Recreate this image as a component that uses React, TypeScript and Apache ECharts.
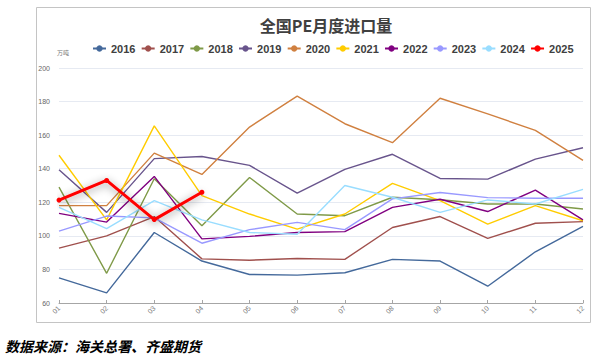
import React, { useEffect, useRef } from "react";
import * as echarts from "echarts";

const months = ["01", "02", "03", "04", "05", "06", "07", "08", "09", "10", "11", "12"];
const years = ["2016", "2017", "2018", "2019", "2020", "2021", "2022", "2023", "2024", "2025"];
const colors = ["#44699B", "#A0504D", "#7F9A48", "#68548C", "#D08040", "#FFCC00", "#800080", "#9999FF", "#99DDFF", "#FF0000"];

const v2016 = [75, 66, 102, 85, 77, 76.6, 78, 86, 85, 70, 90.5, 105.6];
const v2017 = [92.7, 100, 111.5, 86.3, 85.5, 86.5, 86, 105, 111.5, 98.5, 107.5, 108.5];
const v2018 = [129, 77.7, 134, 106, 134.8, 113, 112, 123, 121.5, 119, 119, 116];
const v2019 = [139.4, 114, 146, 147.3, 142, 125.4, 139.6, 148.6, 134.2, 133.8, 145.7, 152.5];
const v2020 = [118, 118, 149.3, 136.6, 164.8, 183.2, 166.8, 155.5, 182, 172.7, 162.8, 145];
const v2021 = [148, 109.5, 165.5, 124, 113, 104, 113, 131.3, 121, 107, 118, 109];
const v2022 = [113.4, 108.2, 135.4, 98.2, 99.7, 102, 102.5, 117, 121.8, 114.5, 127.3, 109.5];
const v2023 = [102.8, 111.8, 110.7, 95.6, 103.7, 108, 103.7, 122, 125.8, 122.8, 122.4, 122.4];
const v2024 = [117, 104.3, 121, 109.5, 102, 101, 130, 123, 114, 121.4, 119, 127.7];
const v2025 = [121.3, 133, 109.7, 126];

const allValues = [v2016, v2017, v2018, v2019, v2020, v2021, v2022, v2023, v2024, v2025];

export default function App() {
  const ref = useRef<HTMLDivElement>(null);
  useEffect(() => {
    if (!ref.current) return;
    const chart = echarts.init(ref.current, null, { renderer: "svg" });
    const series = years.map((y, i) => {
      const isLast = i === years.length - 1;
      return {
        name: y,
        type: "line",
        data: allValues[i],
        symbol: "circle",
        symbolSize: isLast ? 5 : 6,
        showSymbol: isLast,
        z: isLast ? 5 : 2,
        itemStyle: { color: colors[i] },
        lineStyle: isLast
          ? { color: colors[i], width: 3, shadowBlur: 8, shadowColor: "rgba(0,0,0,0.45)", shadowOffsetY: 2 }
          : { color: colors[i], width: 1.4 },
      };
    });
    chart.setOption({
      animation: false,
      backgroundColor: "#ffffff",
      textStyle: { fontFamily: "Liberation Sans, Arial, sans-serif" },
      grid: { left: 59, right: 20, top: 68, bottom: 56 },
      legend: {
        left: 92,
        top: 43,
        padding: 0,
        itemWidth: 13,
        itemHeight: 8,
        itemGap: 5.2,
        data: years,
        textStyle: { fontSize: 11, fontWeight: "bold", color: "#404040", fontFamily: "Liberation Sans, Arial, sans-serif" },
      },
      xAxis: {
        type: "category",
        data: months,
        boundaryGap: false,
        axisLine: { lineStyle: { color: "#a6a6a6" } },
        axisTick: { show: true, length: 3, inside: true, lineStyle: { color: "#a6a6a6" } },
        axisLabel: { rotate: 45, fontSize: 7, color: "#777777", margin: 4 },
        splitLine: { show: false },
      },
      yAxis: {
        type: "value",
        min: 60,
        max: 200,
        interval: 20,
        axisLine: { show: false },
        axisTick: { show: false },
        axisLabel: { fontSize: 7, color: "#666666", margin: 9 },
        splitLine: { lineStyle: { color: "#e6eaf2", width: 1 } },
      },
      graphic: [
        {
          type: "rect",
          shape: { x: 36.5, y: 7.5, width: 554, height: 315 },
          style: { fill: "none", stroke: "#c4c4c4", lineWidth: 1 },
          silent: true,
        },
        {
          type: "text",
          x: 326,
          y: 25,
          style: {
            text: "全国PE月度进口量",
            font: "bold 16px 'Noto Sans CJK SC', sans-serif",
            fill: "#404040",
            textAlign: "center",
            textVerticalAlign: "middle",
          },
        },
        {
          type: "text",
          x: 63,
          y: 52,
          style: {
            text: "万吨",
            font: "6px 'Noto Sans CJK SC', sans-serif",
            fill: "#777777",
            textAlign: "center",
            textVerticalAlign: "middle",
          },
        },
        {
          type: "text",
          x: 5,
          y: 346,
          style: {
            text: "数据来源：海关总署、齐盛期货",
            font: "italic bold 14px 'Noto Sans CJK SC', sans-serif",
            fill: "#000000",
            textAlign: "left",
            textVerticalAlign: "middle",
          },
        },
      ],
      series,
    });
    return () => chart.dispose();
  }, []);
  return <div ref={ref} style={{ position: "absolute", left: 0, top: 0, width: 603, height: 359 }} />;
}
